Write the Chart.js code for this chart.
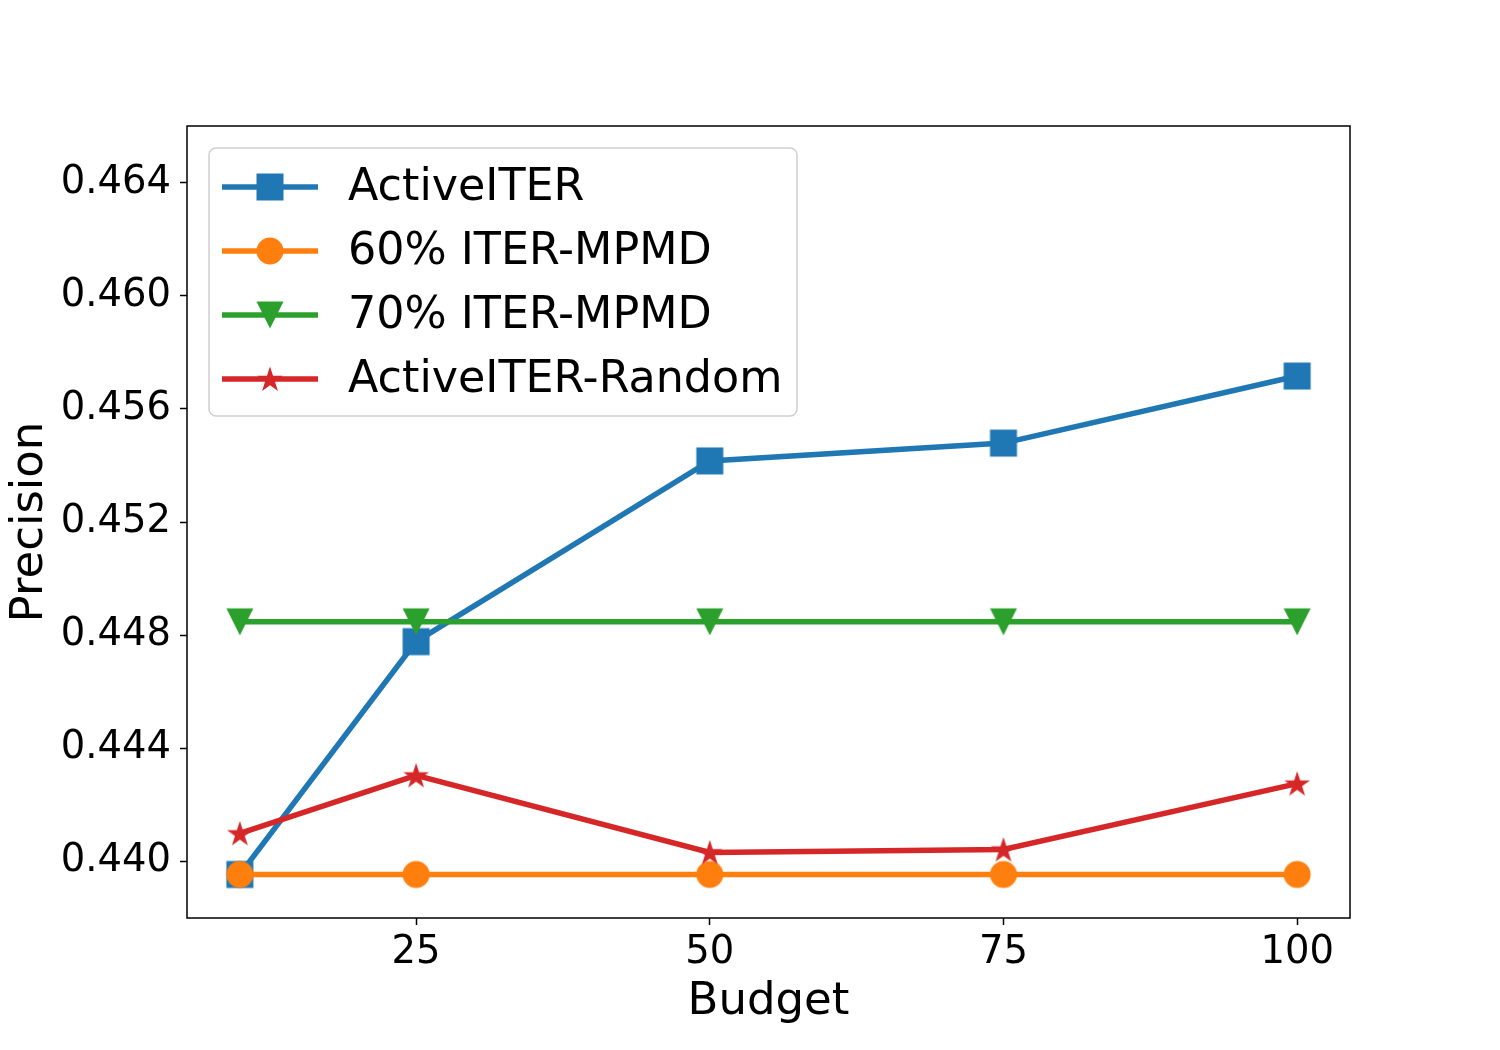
<!DOCTYPE html>
<html>
<head>
<meta charset="utf-8">
<script src="https://cdn.jsdelivr.net/npm/chart.js@4.4.1/dist/chart.umd.min.js"></script>
<style>
  html, body { margin: 0; padding: 0; background: #fff; }
  #wrap { width: 1500px; height: 1050px; }
</style>
</head>
<body>
<div id="wrap"><canvas id="chart" width="1500" height="1050"></canvas></div>
<script>
// Budget values on the x axis
const budgets = [10, 25, 50, 75, 100];

// Precision per method
const activeIter = [0.43954, 0.44777, 0.45416, 0.45479, 0.45716];
const iterMpmd60 = [0.43954, 0.43954, 0.43954, 0.43954, 0.43954];
const iterMpmd70 = [0.44847, 0.44847, 0.44847, 0.44847, 0.44847];
const activeIterRandom = [0.44099, 0.44304, 0.44032, 0.44042, 0.44275];

const seriesLabels = ['ActiveITER', '60% ITER-MPMD', '70% ITER-MPMD', 'ActiveITER-Random'];
const xTicks = [25, 50, 75, 100];
const yTicks = [0.440, 0.444, 0.448, 0.452, 0.456, 0.460, 0.464];

const FONT = '"DejaVu Sans", "Liberation Sans", sans-serif';

/**
 * Build a marker image that Chart.js can use as pointStyle
 */
function makeMarker(shape, color) {
  const c = document.createElement('canvas');
  const size = 30;
  c.width = size;
  c.height = size;
  const ctx = c.getContext('2d');
  ctx.fillStyle = color;
  const m = size / 2;
  ctx.beginPath();
  if (shape === 'square') {
    ctx.rect(m - 13.5, m - 13.5, 27, 27);
  } else if (shape === 'circle') {
    ctx.arc(m, m, 13.5, 0, Math.PI * 2);
  } else if (shape === 'triangleDown') {
    ctx.moveTo(m - 13.5, m - 13.5);
    ctx.lineTo(m + 13.5, m - 13.5);
    ctx.lineTo(m, m + 13.5);
    ctx.closePath();
  } else if (shape === 'star') {
    const outer = 13.5;
    const inner = outer * 0.382;
    const cy = m + 1;
    for (let i = 0; i < 10; i++) {
      const r = i % 2 === 0 ? outer : inner;
      const a = -Math.PI / 2 + i * Math.PI / 5;
      const px = m + r * Math.cos(a);
      const py = cy + r * Math.sin(a);
      if (i === 0) ctx.moveTo(px, py); else ctx.lineTo(px, py);
    }
    ctx.closePath();
  }
  ctx.fill();
  return c;
}

const colors = ['#1f77b4', '#ff7f0e', '#2ca02c', '#d62728'];
const markers = [
  makeMarker('square', colors[0]),
  makeMarker('circle', colors[1]),
  makeMarker('triangleDown', colors[2]),
  makeMarker('star', colors[3])
];
const seriesValues = [activeIter, iterMpmd60, iterMpmd70, activeIterRandom];

const datasets = seriesValues.map((vals, i) => ({
  label: seriesLabels[i],
  data: budgets.map((b, j) => ({ x: b, y: vals[j] })),
  borderColor: colors[i],
  backgroundColor: colors[i],
  borderWidth: 5.5,
  pointStyle: markers[i],
  pointRadius: 14,
  pointHoverRadius: 14,
  tension: 0,
  // matplotlib draws later series on top
  order: seriesLabels.length - i
}));

// frame around the plot area (all four spines)
const framePlugin = {
  id: 'frame',
  afterDatasetsDraw(chart) {
    const { ctx, chartArea: a } = chart;
    ctx.save();
    ctx.strokeStyle = '#000';
    ctx.lineWidth = 1.5;
    ctx.strokeRect(a.left, a.top, a.right - a.left, a.bottom - a.top);
    ctx.restore();
  }
};

// legend drawn inside the plot area, upper left
const legendPlugin = {
  id: 'insideLegend',
  afterDraw(chart) {
    const { ctx, chartArea: a } = chart;
    const x0 = a.left + 22;
    const y0 = a.top + 22;
    const w = 588;
    const h = 268;
    const rowGap = 64;
    ctx.save();
    ctx.beginPath();
    ctx.roundRect(x0, y0, w, h, 7);
    ctx.fillStyle = 'rgba(255,255,255,0.8)';
    ctx.fill();
    ctx.strokeStyle = '#d0d0d0';
    ctx.lineWidth = 1.5;
    ctx.stroke();

    chart.data.datasets.forEach((ds, i) => {
      const cy = y0 + 39 + i * rowGap;
      ctx.beginPath();
      ctx.strokeStyle = ds.borderColor;
      ctx.lineWidth = ds.borderWidth;
      ctx.moveTo(x0 + 13, cy);
      ctx.lineTo(x0 + 109, cy);
      ctx.stroke();
      const mk = ds.pointStyle;
      ctx.drawImage(mk, x0 + 61 - mk.width / 2, cy - mk.height / 2);
      ctx.fillStyle = '#000';
      ctx.font = '44.4px ' + FONT;
      ctx.textBaseline = 'middle';
      ctx.textAlign = 'left';
      ctx.fillText(ds.label, x0 + 139, cy + 1);
    });
    ctx.restore();
  }
};

new Chart(document.getElementById('chart'), {
  type: 'line',
  data: { datasets },
  plugins: [framePlugin, legendPlugin],
  options: {
    responsive: false,
    animation: false,
    devicePixelRatio: 1,
    layout: {
      padding: { top: 126, right: 150, left: 0, bottom: 0 }
    },
    plugins: {
      legend: { display: false },
      tooltip: { enabled: false }
    },
    scales: {
      x: {
        type: 'linear',
        min: 5.5,
        max: 104.5,
        afterBuildTicks: scale => {
          scale.ticks = xTicks.map(v => ({ value: v }));
        },
        afterFit: scale => {
          scale.height = 132;
        },
        grid: {
          drawOnChartArea: false,
          drawTicks: true,
          tickLength: 7,
          tickWidth: 1.5,
          tickColor: '#000'
        },
        border: { display: false },
        ticks: {
          color: '#000',
          padding: 5,
          maxRotation: 0,
          font: { family: FONT, size: 38.5 }
        },
        title: {
          display: true,
          text: 'Budget',
          color: '#000',
          padding: { top: 0, bottom: 21 },
          font: { family: FONT, size: 45, lineHeight: 1.2 }
        }
      },
      y: {
        type: 'linear',
        min: 0.438,
        max: 0.466,
        afterBuildTicks: scale => {
          scale.ticks = yTicks.map(v => ({ value: v }));
        },
        afterFit: scale => {
          scale.width = 187;
        },
        grid: {
          drawOnChartArea: false,
          drawTicks: true,
          tickLength: 7,
          tickWidth: 1.5,
          tickColor: '#000'
        },
        border: { display: false },
        ticks: {
          color: '#000',
          padding: 9,
          font: { family: FONT, size: 38.5 },
          callback: v => v.toFixed(3)
        },
        title: {
          display: true,
          text: 'Precision',
          color: '#000',
          padding: { top: 3, bottom: 0 },
          font: { family: FONT, size: 45, lineHeight: 1.2 }
        }
      }
    }
  }
});
</script>
</body>
</html>
